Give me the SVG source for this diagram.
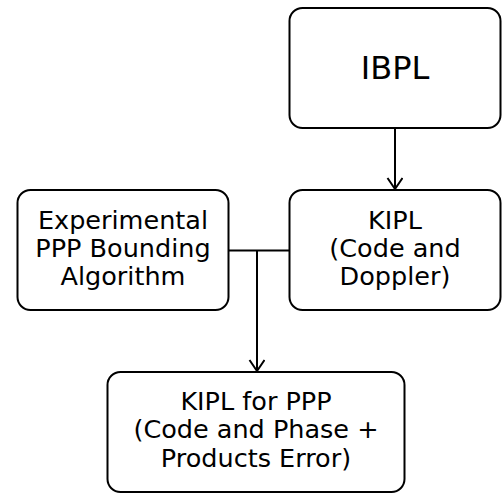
<svg xmlns="http://www.w3.org/2000/svg" width="502" height="493" viewBox="0 0 502 493">
<defs>
<style>
.box{fill:#fff;stroke:#000;stroke-width:2}
.t{font-family:"DejaVu Sans",Verdana,sans-serif;font-size:25.5px;fill:#000;text-anchor:middle}
.big{font-size:32px}
.c{fill:none;stroke:#000;stroke-width:2}
</style>
<marker id="ah" markerWidth="20" markerHeight="18" refX="12" refY="8" orient="auto" markerUnits="userSpaceOnUse">
<path d="M1,0.5 L12,8 L1,15.5" fill="none" stroke="#000" stroke-width="2"/>
</marker>
</defs>
<rect width="502" height="493" fill="#fff"/>
<g id="connectors">
<path class="c" d="M395,128 V189" marker-end="url(#ah)"/>
<path class="c" d="M229,250.5 H289"/>
<path class="c" d="M257,250.5 V371" marker-end="url(#ah)"/>
</g>
<g id="ibpl">
<rect class="box" x="289.5" y="8" width="211" height="120" rx="13"/>
<text class="t big" x="395" y="79">IBPL</text>
</g>
<g id="kipl">
<rect class="box" x="289.5" y="190" width="211" height="120" rx="13"/>
<text class="t" x="395" y="229">KIPL</text>
<text class="t" x="395" y="257">(Code and</text>
<text class="t" x="395" y="285">Doppler)</text>
</g>
<g id="experimental">
<rect class="box" x="17.5" y="190" width="211" height="120" rx="13"/>
<text class="t" x="123" y="229">Experimental</text>
<text class="t" x="123" y="257">PPP Bounding</text>
<text class="t" x="123" y="285">Algorithm</text>
</g>
<g id="kiplppp">
<rect class="box" x="107.5" y="372" width="297" height="120" rx="13"/>
<text class="t" x="256" y="410">KIPL for PPP</text>
<text class="t" x="256" y="438">(Code and Phase +</text>
<text class="t" x="256" y="467">Products Error)</text>
</g>
</svg>
